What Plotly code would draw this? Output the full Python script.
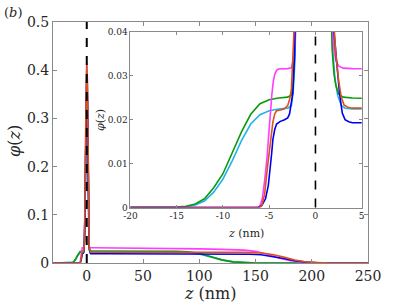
import plotly.graph_objects as go

# ---------------- data ----------------
z_cyan = [-30, -16, -15, -14, -13, -12, -11, -10, -9, -8, -7, -6, -5, -4, -3, -2.6, -2.4, -2.2, -2.0,
          -1.5, -1, -0.5, 0, 0.5, 1, 1.4, 1.7, 1.9, 2.1, 2.4, 2.8, 3.2, 4, 6, 20, 50, 80, 90, 100, 110,
          120, 130, 140, 150, 250]
phi_cyan = [0, 0, 0.00005, 0.0002, 0.0006, 0.0015, 0.0035, 0.0065, 0.0106, 0.0152, 0.0190, 0.0211,
            0.0220, 0.0224, 0.0226, 0.0232, 0.0265, 0.034, 0.048, 0.115, 0.24, 0.35, 0.39, 0.36, 0.21,
            0.085, 0.045, 0.035, 0.0295, 0.0255, 0.0232, 0.0226, 0.0224, 0.0224, 0.0224, 0.0223,
            0.0220, 0.0212, 0.0186, 0.0128, 0.0065, 0.0024, 0.0007, 0.0001, 0]

z_green = [-30, -16, -15, -14, -13, -12, -11, -10, -9, -8, -7, -6, -5, -4, -3, -2.6, -2.4, -2.2, -2.0,
           -1.5, -1.0, -0.5, 0, 0.5, 1.0, 1.4, 1.6, 1.8, 2.0, 2.2, 2.5, 3.0, 4, 6, 20, 50, 80, 90, 100,
           110, 120, 130, 140, 150, 250]
phi_green = [0, 0, 0.0001, 0.0003, 0.0008, 0.002, 0.0045, 0.0077, 0.0125, 0.0172, 0.0212, 0.0236,
             0.0245, 0.0249, 0.0251, 0.0256, 0.0285, 0.036, 0.05, 0.12, 0.25, 0.36, 0.40, 0.37, 0.22,
             0.09, 0.055, 0.036, 0.0305, 0.0278, 0.0258, 0.0251, 0.0249, 0.0248, 0.0248, 0.0247,
             0.0243, 0.0232, 0.0200, 0.0135, 0.0065, 0.0023, 0.0006, 0.0001, 0]

z_magenta = [-30, -6.2, -6.0, -5.75, -5.5, -5.25, -5.0, -4.85, -4.7, -4.55, -4.4, -4.2, -4.0, -3.0,
             -2.6, -2.4, -2.2, -2.0, -1.5, -1, -0.5, 0, 0.5, 1, 1.5, 1.8, 2.0, 2.2, 2.5, 3.0, 4, 6,
             20, 50, 80, 100, 120, 140, 150, 160, 170, 180, 190, 200, 210, 250]
phi_magenta = [0, 0, 0.0004, 0.002, 0.006, 0.011, 0.018, 0.0225, 0.026, 0.0288, 0.0303, 0.0312,
               0.0315, 0.0316, 0.0318, 0.0335, 0.038, 0.05, 0.12, 0.26, 0.38, 0.416, 0.38, 0.22,
               0.075, 0.043, 0.036, 0.0335, 0.0322, 0.0317, 0.0316, 0.0316, 0.0314, 0.0308, 0.0300,
               0.0293, 0.0282, 0.0268, 0.0242, 0.0185, 0.0110, 0.0055, 0.0020, 0.0005, 0.0001, 0]

z_blue = [-30, -6.2, -5.8, -5.4, -5.1, -4.9, -4.75, -4.6, -4.4, -4.2, -3.8, -3.4, -3.0, -2.8, -2.6,
          -2.45, -2.25, -2.1, -1.5, -1, -0.5, 0, 0.5, 1, 1.5, 2.0, 2.3, 2.6, 2.9, 3.2, 3.6, 4, 6, 20,
          50, 100, 130, 145, 155, 165, 175, 185, 195, 205, 215, 250]
phi_blue = [0, 0, 0.0005, 0.002, 0.005, 0.0085, 0.012, 0.0155, 0.0178, 0.0190, 0.0196, 0.0199,
            0.0204, 0.0213, 0.0235, 0.026, 0.035, 0.045, 0.10, 0.23, 0.35, 0.38, 0.35, 0.20, 0.08,
            0.04, 0.032, 0.026, 0.0215, 0.0200, 0.0195, 0.0193, 0.0193, 0.0193, 0.0192, 0.0191,
            0.0189, 0.0183, 0.0170, 0.0140, 0.0095, 0.0050, 0.0018, 0.0004, 0.0001, 0]

z_orange = [-30, -6.0, -5.8, -5.5, -5.2, -5.0, -4.8, -4.6, -4.4, -4.2, -3.8, -3.4, -3.0, -2.8, -2.6,
            -2.4, -2.2, -2.0, -1.5, -1, -0.5, 0, 0.5, 1, 1.5, 1.9, 2.2, 2.5, 2.8, 3.1, 3.5, 4, 6, 20,
            100, 140, 155, 165, 175, 185, 195, 205, 215, 250]
phi_orange = [0, 0, 0.0005, 0.003, 0.009, 0.013, 0.0165, 0.0195, 0.0213, 0.0220, 0.0222, 0.0224,
              0.0232, 0.0245, 0.027, 0.033, 0.042, 0.055, 0.125, 0.27, 0.39, 0.41, 0.38, 0.23,
              0.09, 0.045, 0.035, 0.029, 0.025, 0.0233, 0.0228, 0.0226, 0.0226, 0.0225, 0.0224,
              0.0221, 0.0208, 0.0178, 0.0122, 0.0062, 0.0022, 0.0005, 0.0001, 0]

main_xticks = [0, 50, 100, 150, 200, 250]
main_yticks = [0, 0.1, 0.2, 0.3, 0.4, 0.5]
main_yticklabels = ["0", "0.1", "0.2", "0.3", "0.4", "0.5"]
inset_xticks = [-20, -15, -10, -5, 0, 5]
inset_xticklabels = ["-20", "-15", "-10", "-5", "0", "5"]
inset_yticks = [0, 0.01, 0.02, 0.03, 0.04]
inset_yticklabels = ["0", "0.01", "0.02", "0.03", "0.04"]

series = [
    (z_cyan, phi_cyan, "#22b2f2"),
    (z_green, phi_green, "#0b9a0b"),
    (z_magenta, phi_magenta, "#ff3cff"),
    (z_blue, phi_blue, "#0000f0"),
    (z_orange, phi_orange, "#d95319"),
]

FONT = "DejaVu Serif"
AX = "#8a8a8a"
TXT = "#262626"

fig = go.Figure()
for z, phi, col in series:
    for xa, ya in (("x", "y"), ("x2", "y2")):
        fig.add_trace(go.Scatter(x=z, y=phi, mode="lines", xaxis=xa, yaxis=ya,
                                 line=dict(color=col, width=1.6),
                                 showlegend=False, hoverinfo="skip"))

fig.add_shape(type="line", xref="x", yref="y", x0=0, x1=0, y0=0, y1=0.5,
              line=dict(color="black", width=2, dash="dash"))
fig.add_shape(type="line", xref="x2", yref="y2", x0=0, x1=0, y0=0, y1=0.04,
              line=dict(color="black", width=1.6, dash="dash"))

common = dict(showline=True, linecolor=AX, linewidth=1, mirror="ticks", ticks="inside",
              tickcolor=AX, showgrid=False, zeroline=False)

fig.update_layout(
    width=407, height=305,
    margin=dict(l=53, r=39, t=22, b=42),
    paper_bgcolor="white", plot_bgcolor="white",
    font=dict(family=FONT, color=TXT),
    xaxis=dict(domain=[0, 1], range=[-30, 250], tickvals=main_xticks, ticklen=4,
               tickfont=dict(size=14, family=FONT, color=TXT), anchor="y", **common),
    yaxis=dict(domain=[0, 1], range=[0, 0.5], tickvals=main_yticks, ticktext=main_yticklabels,
               ticklen=4, tickfont=dict(size=14, family=FONT, color=TXT), anchor="x", **common),
    xaxis2=dict(domain=[0.246, 0.98], range=[-20, 5], tickvals=inset_xticks,
                ticktext=inset_xticklabels, ticklen=3, anchor="y2",
                tickfont=dict(size=9, family=FONT, color=TXT), **common),
    yaxis2=dict(domain=[0.23, 0.96], range=[0, 0.04], tickvals=inset_yticks,
                ticktext=inset_yticklabels, ticklen=3, anchor="x2",
                tickfont=dict(size=9, family=FONT, color=TXT), **common),
    annotations=[
        dict(text="(<i>b</i>)", xref="paper", yref="paper", x=-0.127, y=1.041,
             xanchor="center", yanchor="middle", showarrow=False,
             font=dict(size=13, family=FONT, color=TXT)),
        dict(text="<i>z</i> (nm)", xref="paper", yref="paper", x=0.498, y=-0.126,
             xanchor="center", yanchor="middle", showarrow=False,
             font=dict(size=16, family=FONT, color=TXT)),
        dict(text="<i>φ</i>(<i>z</i>)", xref="paper", yref="paper", x=-0.124, y=0.506,
             xanchor="center", yanchor="middle", showarrow=False, textangle=-90,
             font=dict(size=16, family=FONT, color=TXT)),
        dict(text="<i>z</i> (nm)", xref="paper", yref="paper", x=0.613, y=0.124,
             xanchor="center", yanchor="middle", showarrow=False,
             font=dict(size=11, family=FONT, color=TXT)),
        dict(text="<i>φ</i>(<i>z</i>)", xref="paper", yref="paper", x=0.149, y=0.593,
             xanchor="center", yanchor="middle", showarrow=False, textangle=-90,
             font=dict(size=11, family=FONT, color=TXT)),
    ],
)

fig.write_html("out.html", config={"displayModeBar": False},
               post_script="document.body.style.margin='0px';document.body.style.padding='0px';")
